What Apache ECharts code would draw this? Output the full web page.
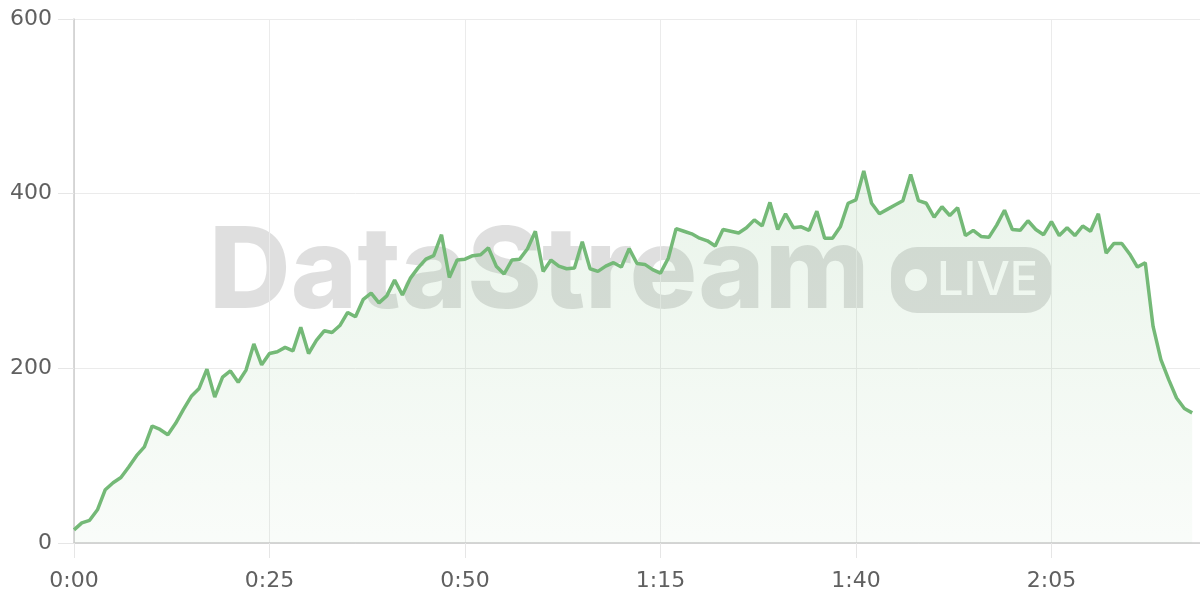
<!DOCTYPE html>
<html>
<head>
<meta charset="utf-8">
<style>
  html, body { margin: 0; padding: 0; background: #ffffff; }
  #chart { width: 1200px; height: 600px; }
</style>
<script src="https://cdn.jsdelivr.net/npm/echarts@6/dist/echarts.min.js"></script>
</head>
<body>
<div id="chart"></div>
<script>
// Values sampled once per second (x = elapsed seconds, shown as m:ss)
const values = [
  15, 23, 26, 38, 61, 69, 75, 87, 100, 110,
  134, 130, 124, 137, 153, 168, 177, 199, 167, 190,
  197, 184, 198, 228, 204, 217, 219, 224, 220, 247,
  217, 232, 243, 241, 249, 264, 259, 279, 286, 275,
  283, 301, 284, 303, 315, 325, 329, 353, 304, 324,
  325, 329, 330, 338, 317, 308, 324, 325, 337, 357,
  311, 324, 317, 314, 315, 345, 314, 311, 317, 321,
  316, 337, 320, 319, 313, 309, 326, 360, 357, 354,
  349, 346, 340, 359, 357, 355, 361, 370, 363, 390,
  359, 377, 361, 362, 358, 380, 349, 349, 362, 389,
  393, 426, 389, 377, 382, 387, 392, 422, 392, 389,
  373, 385, 375, 384, 352, 358, 351, 350, 364, 381,
  359, 358, 369, 359, 353, 368, 352, 361, 352, 363,
  357, 377, 332, 343, 343, 331, 316, 321, 248, 210,
  187, 166, 154, 149
];
const seconds = values.map((v, i) => i);
const yTicks = [0, 200, 400, 600];
const xTickLabels = ['0:00', '0:25', '0:50', '1:15', '1:40', '2:05'];
const watermarkText = 'DataStream';
const badgeText = 'LIVE';

const seriesData = seconds.map((s, i) => [s, values[i]]);

function fmtTime(v) {
  const m = Math.floor(v / 60);
  const s = Math.round(v % 60);
  return m + ':' + (s < 10 ? '0' + s : s);
}

const chart = echarts.init(document.getElementById('chart'), null, { renderer: 'canvas' });
const labelFont = '"DejaVu Sans", Verdana, sans-serif';

chart.setOption({
  animation: false,
  backgroundColor: '#ffffff',
  grid: { left: 74, right: 0, top: 19, bottom: 57, containLabel: false },
  graphic: [
    {
      type: 'text', z: 0, silent: true,
      style: {
        x: 209, y: 274, text: watermarkText,
        font: '800 113px Inter, "Liberation Sans", Arial, sans-serif',
        fill: 'rgba(0,0,0,0.125)', verticalAlign: 'middle', align: 'left'
      }
    },
    {
      type: 'rect', z: 0, silent: true,
      shape: { x: 891, y: 247, width: 161, height: 66, r: 26 },
      style: { fill: 'rgba(0,0,0,0.125)' }
    },
    {
      type: 'circle', z: 0, silent: true,
      shape: { cx: 916, cy: 280, r: 11 },
      style: { fill: '#ffffff' }
    },
    {
      type: 'text', z: 0, silent: true,
      style: {
        x: 937, y: 281, text: badgeText,
        font: '500 47px Inter, "Liberation Sans", Arial, sans-serif',
        fill: '#ffffff', verticalAlign: 'middle', align: 'left'
      }
    }
  ],
  xAxis: {
    type: 'value',
    min: 0, max: 144, interval: 25,
    axisLine: { show: true, lineStyle: { color: '#cccccc', width: 1.5 } },
    axisTick: { show: true, length: 15, lineStyle: { color: '#e6e6e6' } },
    splitLine: { show: true, lineStyle: { color: '#ebebeb' } },
    axisLabel: {
      show: true, showMaxLabel: false, margin: 27,
      color: '#606060', fontSize: 22, fontFamily: labelFont,
      formatter: function (v) {
        const idx = Math.round(v / 25);
        return (v % 25 === 0 && xTickLabels[idx] !== undefined) ? xTickLabels[idx] : fmtTime(v);
      }
    }
  },
  yAxis: {
    type: 'value',
    min: yTicks[0], max: yTicks[yTicks.length - 1], interval: 200,
    axisLine: { show: true, lineStyle: { color: '#cccccc', width: 1.5 } },
    axisTick: { show: true, length: 16, lineStyle: { color: '#e6e6e6' } },
    splitLine: { show: true, lineStyle: { color: '#ebebeb' } },
    axisLabel: {
      show: true, margin: 22,
      color: '#606060', fontSize: 22, fontFamily: labelFont
    }
  },
  series: [{
    type: 'line',
    data: seriesData,
    showSymbol: false,
    symbol: 'none',
    z: 3,
    lineStyle: { color: '#74b977', width: 3.5 },
    areaStyle: {
      color: new echarts.graphic.LinearGradient(0, 0, 0, 1, [
        { offset: 0, color: 'rgba(116,185,119,0.22)' },
        { offset: 1, color: 'rgba(116,185,119,0.06)' }
      ])
    }
  }]
});
</script>
</body>
</html>
